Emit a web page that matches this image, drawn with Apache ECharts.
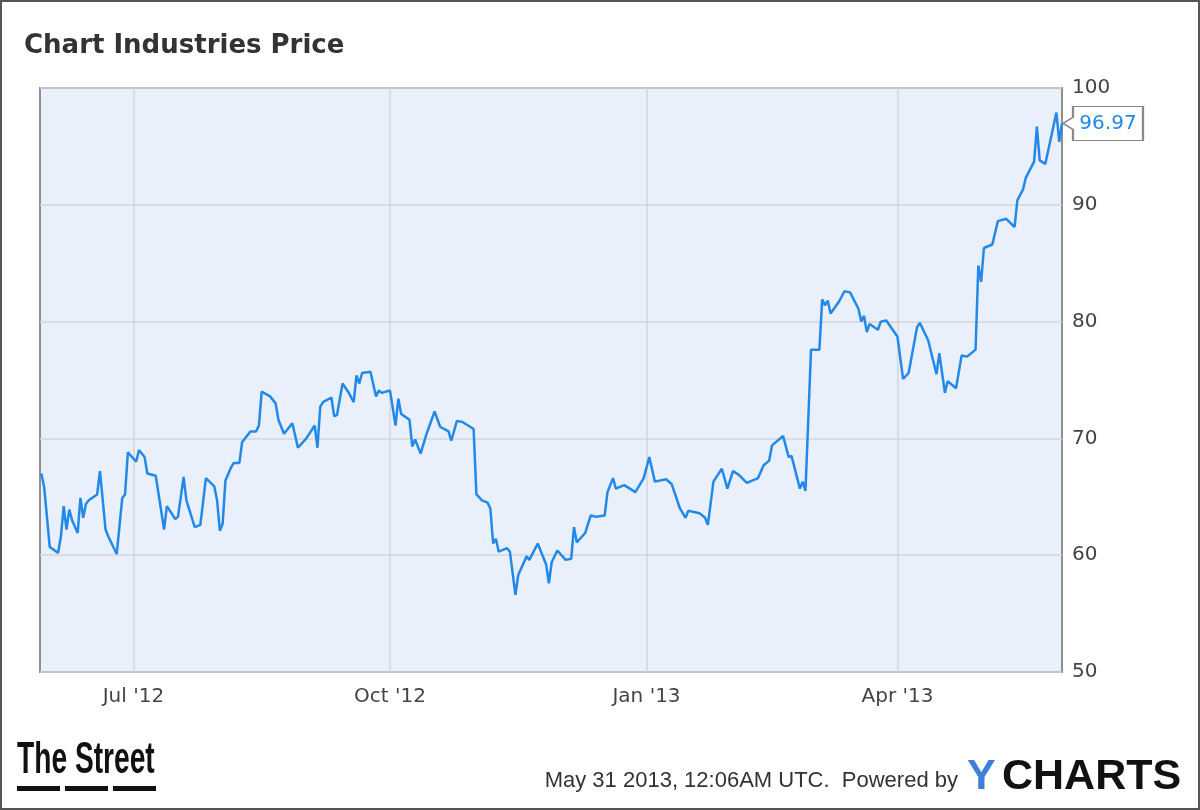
<!DOCTYPE html>
<html><head><meta charset="utf-8">
<script src="https://cdn.jsdelivr.net/npm/echarts@6/dist/echarts.min.js"></script>
<style>html,body{margin:0;padding:0;background:#fff}#c{width:1200px;height:810px}</style>
</head><body><div id="c"></div>
<script>
// ---- data ----
const dates = [
'2012-05-29','2012-05-30','2012-06-01','2012-06-04','2012-06-05','2012-06-06','2012-06-07','2012-06-08','2012-06-09','2012-06-11','2012-06-12','2012-06-13','2012-06-14','2012-06-15','2012-06-18','2012-06-19','2012-06-21','2012-06-22','2012-06-25','2012-06-27','2012-06-28','2012-06-29',
'2012-07-02','2012-07-03','2012-07-05','2012-07-06','2012-07-09','2012-07-12','2012-07-13','2012-07-16','2012-07-17','2012-07-19','2012-07-20','2012-07-23','2012-07-25','2012-07-27','2012-07-30','2012-07-31',
'2012-08-01','2012-08-02','2012-08-03','2012-08-05','2012-08-06','2012-08-08','2012-08-09','2012-08-12','2012-08-14','2012-08-15','2012-08-16','2012-08-19','2012-08-21','2012-08-22','2012-08-24','2012-08-27','2012-08-29',
'2012-09-01','2012-09-04','2012-09-05','2012-09-06','2012-09-07','2012-09-10','2012-09-11','2012-09-12','2012-09-14','2012-09-16','2012-09-18','2012-09-19','2012-09-20','2012-09-21','2012-09-24','2012-09-26','2012-09-27','2012-09-28',
'2012-10-01','2012-10-03','2012-10-04','2012-10-05','2012-10-08','2012-10-09','2012-10-10','2012-10-12','2012-10-14','2012-10-17','2012-10-19','2012-10-22','2012-10-23','2012-10-25','2012-10-27','2012-10-31',
'2012-11-01','2012-11-03','2012-11-05','2012-11-06','2012-11-07','2012-11-08','2012-11-09','2012-11-12','2012-11-13','2012-11-15','2012-11-16','2012-11-19','2012-11-20','2012-11-23','2012-11-26','2012-11-27','2012-11-28','2012-11-30',
'2012-12-03','2012-12-05','2012-12-06','2012-12-07','2012-12-10','2012-12-12','2012-12-14','2012-12-17','2012-12-18','2012-12-20','2012-12-21','2012-12-24','2012-12-28','2012-12-31',
'2013-01-02','2013-01-04','2013-01-08','2013-01-10','2013-01-13','2013-01-15','2013-01-16','2013-01-20','2013-01-22','2013-01-23','2013-01-25','2013-01-28','2013-01-30',
'2013-02-01','2013-02-03','2013-02-06','2013-02-10','2013-02-12','2013-02-14','2013-02-15','2013-02-19','2013-02-21','2013-02-22','2013-02-25','2013-02-26','2013-02-27',
'2013-03-01','2013-03-04','2013-03-05','2013-03-06','2013-03-07','2013-03-08','2013-03-11','2013-03-13','2013-03-15','2013-03-18','2013-03-19','2013-03-20','2013-03-21','2013-03-22','2013-03-25','2013-03-26','2013-03-28',
'2013-04-01','2013-04-03','2013-04-05','2013-04-08','2013-04-09','2013-04-12','2013-04-15','2013-04-16','2013-04-18','2013-04-19','2013-04-22','2013-04-24','2013-04-26','2013-04-29','2013-04-30',
'2013-05-01','2013-05-02','2013-05-05','2013-05-07','2013-05-10','2013-05-13','2013-05-14','2013-05-16','2013-05-17','2013-05-20','2013-05-21','2013-05-22','2013-05-24','2013-05-28','2013-05-29','2013-05-30'
];
const prices = [
67.0,65.8,60.7,60.2,61.6,64.2,62.2,63.9,63.0,61.9,64.9,63.2,64.4,64.7,65.2,67.2,62.2,61.6,60.1,64.9,65.2,68.8,
68.0,69.0,68.4,67.0,66.8,62.2,64.2,63.1,63.3,66.7,64.7,62.4,62.6,66.6,65.9,64.7,
62.1,62.7,66.4,67.5,67.9,67.9,69.7,70.6,70.6,71.1,74.0,73.6,73.0,71.6,70.4,71.3,69.2,
70.0,71.1,69.2,72.7,73.1,73.5,71.9,72.0,74.7,74.0,73.1,75.4,74.7,75.6,75.7,73.6,74.1,73.9,
74.1,71.1,73.4,72.1,71.6,69.3,69.9,68.7,70.3,72.3,71.0,70.6,69.8,71.5,71.4,70.8,
65.2,64.7,64.5,64.0,61.0,61.4,60.3,60.6,60.3,56.6,58.3,59.9,59.6,61.0,59.2,57.6,59.4,60.4,
59.6,59.7,62.4,61.1,61.9,63.4,63.3,63.4,65.4,66.6,65.7,66.0,65.4,66.6,
68.4,66.3,66.5,66.1,64.0,63.2,63.8,63.6,63.2,62.6,66.3,67.4,65.7,
67.2,66.9,66.2,66.6,67.7,68.1,69.4,70.2,68.4,68.5,65.7,66.3,65.5,
77.6,77.6,81.9,81.4,81.8,80.7,81.7,82.6,82.5,81.1,80.0,80.5,79.1,79.8,79.3,80.0,80.1,
78.7,75.1,75.6,79.5,79.9,78.4,75.5,77.3,73.9,74.9,74.3,77.1,77.0,77.6,84.8,
83.4,86.3,86.6,88.6,88.8,88.1,90.4,91.3,92.3,93.7,96.7,93.8,93.5,97.9,95.4,96.97
];
const xTickDates = ['2012-07-01','2012-10-01','2013-01-01','2013-04-01'];
const xMinDate = '2012-05-28 12:00';
const monthNames = ['Jan','Feb','Mar','Apr','May','Jun','Jul','Aug','Sep','Oct','Nov','Dec'];
const yMin = 50, yMax = 100, yStep = 10;
const titleText = 'Chart Industries Price';
const footerText = 'May 31 2013, 12:06AM UTC.  Powered by';

// ---- chart ----
const toTs = s => +echarts.time.parse(s);
const chart = echarts.init(document.getElementById('c'), null, {renderer: 'canvas'});
const ts = dates.map(toTs);
const tickVals = xTickDates.map(toTs);
const lineColor = '#2389e8';
const last = prices.length - 1;

chart.setOption({
  animation: false,
  backgroundColor: '#fff',
  title: {
    text: titleText, left: 19, top: 28,
    textStyle: {fontFamily: 'DejaVu Sans', fontSize: 26, fontWeight: 'bold', color: '#333'}
  },
  grid: {
    left: 40, right: 138, top: 88, bottom: 138,
    show: true, backgroundColor: '#e9f0fc', borderColor: '#8f8f8f', borderWidth: 2
  },
  xAxis: {
    type: 'value',
    min: toTs(xMinDate), max: ts[last],
    axisLine: {show: false},
    axisTick: {show: false, customValues: tickVals},
    splitLine: {show: true, lineStyle: {color: '#d6d6d6', width: 1.5}},
    axisLabel: {
      customValues: tickVals,
      margin: 15, fontFamily: 'DejaVu Sans', fontSize: 20, color: '#444',
      formatter: v => { const d = new Date(v); return monthNames[d.getMonth()] + " '" + String(d.getFullYear()).slice(2); }
    }
  },
  yAxis: {
    type: 'value', position: 'right',
    min: yMin, max: yMax, interval: yStep,
    axisLine: {show: false}, axisTick: {show: false},
    splitLine: {show: true, lineStyle: {color: '#d6d6d6', width: 1.5}},
    axisLabel: {margin: 10, fontFamily: 'DejaVu Sans', fontSize: 20, color: '#444'}
  },
  series: [{
    type: 'line',
    data: ts.map((t, i) => [t, prices[i]]),
    showSymbol: false,
    lineStyle: {color: lineColor, width: 2.5},
    itemStyle: {color: lineColor},
    clip: true,
    markPoint: {
      symbol: 'path://M0,17 L10,11 L10,0 L80,0 L80,34 L10,34 L10,23 Z',
      symbolSize: [80, 34],
      symbolKeepAspect: false,
      symbolOffset: [41, 0],
      itemStyle: {color: '#fff', borderColor: '#8a8a8a', borderWidth: 1.5},
      label: {
        show: true, position: 'inside', offset: [5, 0],
        formatter: () => prices[last].toFixed(2),
        fontFamily: 'DejaVu Sans', fontSize: 20, color: lineColor
      },
      data: [{coord: [ts[last], prices[last]]}]
    }
  }],
  graphic: [
    {type: 'rect', shape: {x: 1, y: 1, width: 1198, height: 808}, style: {fill: 'none', stroke: '#555', lineWidth: 2}, silent: true},
    {type: 'text', x: 17, y: 761, scaleX: 0.64, style: {text: 'The Street', font: 'bold 44px "Liberation Sans", Arial, sans-serif', fill: '#111', textVerticalAlign: 'middle'}},
    {type: 'rect', shape: {x: 17, y: 786, width: 43, height: 5}, style: {fill: '#111'}},
    {type: 'rect', shape: {x: 65, y: 786, width: 43, height: 5}, style: {fill: '#111'}},
    {type: 'rect', shape: {x: 113, y: 786, width: 43, height: 5}, style: {fill: '#111'}},
    {type: 'text', x: 958, y: 781, style: {text: footerText, font: '22px "Liberation Sans", Arial, sans-serif', fill: '#333', textAlign: 'right', textVerticalAlign: 'middle'}},
    {type: 'text', x: 967, y: 777, style: {text: 'Y', font: 'bold 43px "Liberation Sans", Arial, sans-serif', fill: '#3d7fdb', textVerticalAlign: 'middle'}},
    {type: 'text', x: 1002, y: 777, style: {text: 'CHARTS', font: 'bold 43px "Liberation Sans", Arial, sans-serif', fill: '#111', textVerticalAlign: 'middle'}}
  ]
});
</script>
</body></html>
